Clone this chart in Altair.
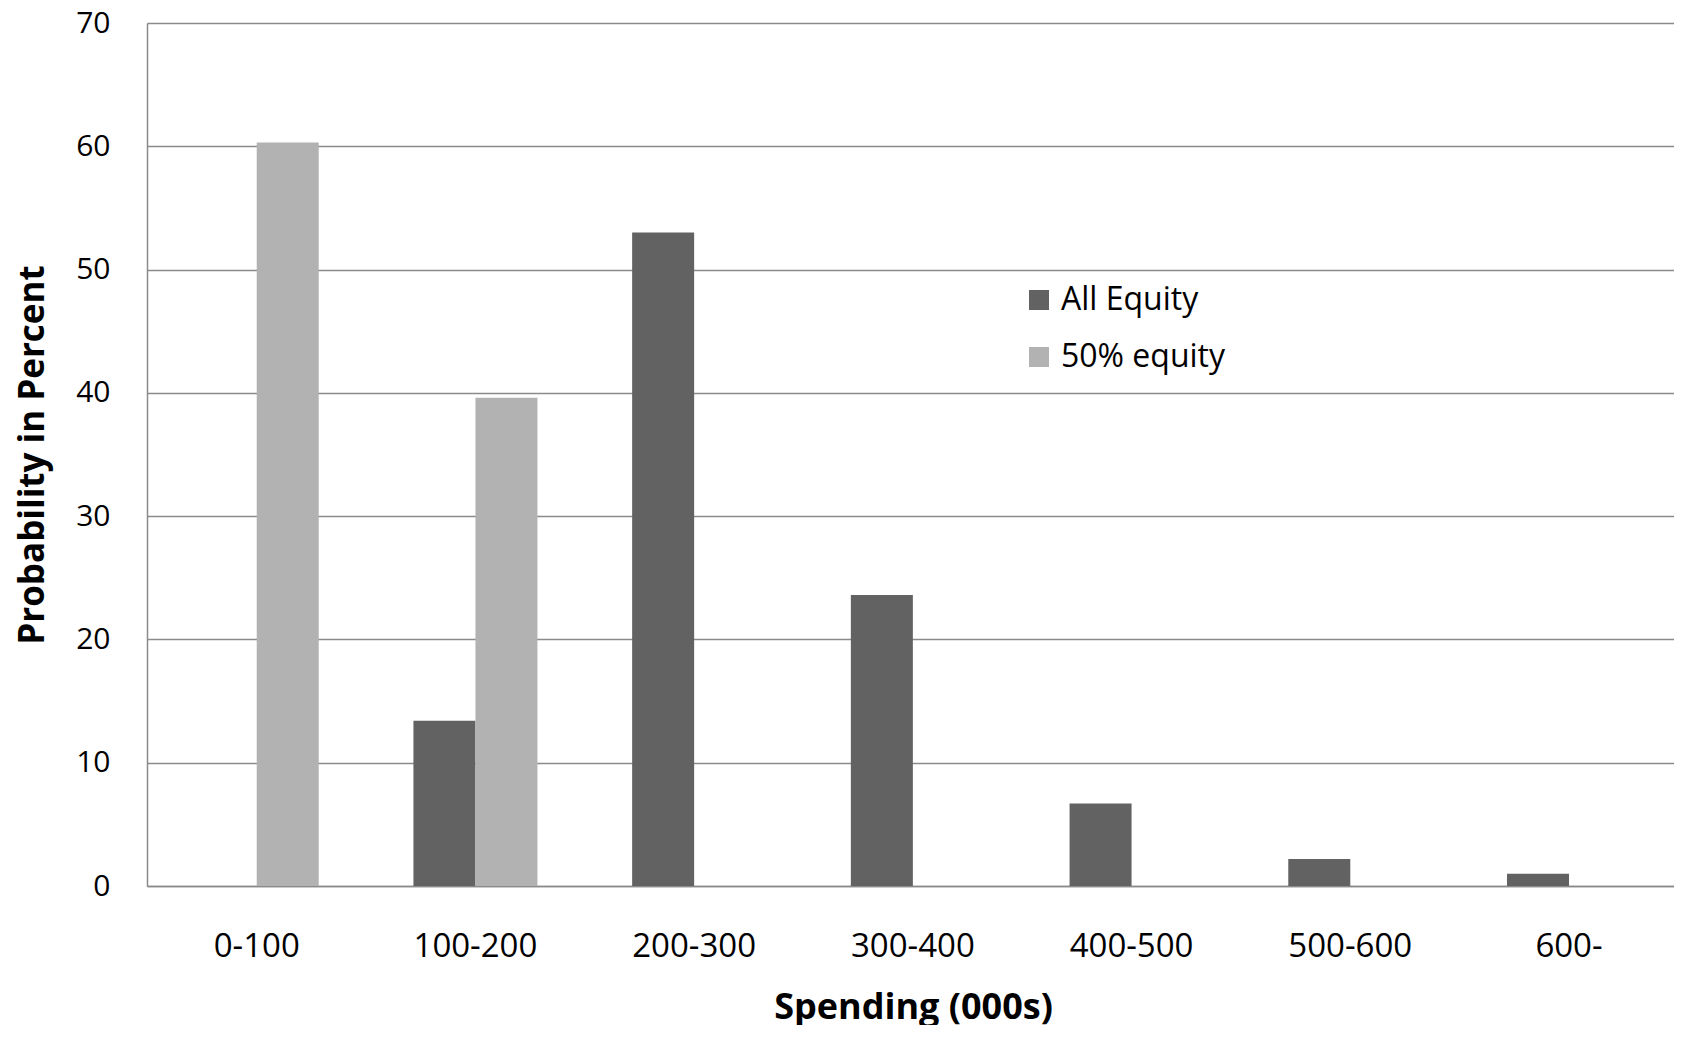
import altair as alt
import pandas as pd

categories = ["0-100", "100-200", "200-300", "300-400", "400-500", "500-600", "600-"]
series = ["All Equity", "50% equity"]
all_equity = [0.0, 13.4, 53.0, 23.6, 6.7, 2.2, 1.0]
half_equity = [60.3, 39.6, 0.0, 0.0, 0.0, 0.0, 0.0]
colors = ["#626262", "#b2b2b2"]

rows = []
for c, a, h in zip(categories, all_equity, half_equity):
    rows.append({"cat": c, "series": series[0], "value": a})
    rows.append({"cat": c, "series": series[1], "value": h})
df = pd.DataFrame(rows)

FONT = "Open Sans"
GRID = "#8a8a8a"

chart = alt.Chart(df).mark_bar().encode(
    x=alt.X("cat:N", sort=categories,
            scale=alt.Scale(paddingInner=0.433, paddingOuter=0.2074, align=0.526),
            axis=alt.Axis(title="Spending (000s)", labelAngle=0, ticks=False, tickSize=0,
                          labelPadding=60, labelBaseline="middle",
                          labelFont=FONT, labelFontSize=33, labelColor="#000000",
                          titleFont=FONT, titleFontSize=36, titleFontWeight="bold",
                          titleColor="#000000", titleX=766, titleY=121, titleBaseline="middle",
                          domainColor=GRID, domainWidth=1.5, grid=False)),
    xOffset=alt.XOffset("series:N", sort=series, scale=alt.Scale(domain=series, paddingInner=0, paddingOuter=0)),
    y=alt.Y("value:Q", scale=alt.Scale(domain=[0, 70], nice=False),
            axis=alt.Axis(title="Probability in Percent", values=[0, 10, 20, 30, 40, 50, 60, 70],
                          ticks=False, tickSize=0, labelPadding=37,
                          labelFont=FONT, labelFontSize=30, labelColor="#000000",
                          titleFont=FONT, titleFontSize=35, titleFontWeight="bold",
                          titleColor="#000000", titleX=-115, titleBaseline="middle",
                          domainColor=GRID, domainWidth=1.5,
                          grid=True, gridColor=GRID, gridWidth=1.5)),
    color=alt.Color("series:N", sort=series,
                    scale=alt.Scale(domain=series, range=colors),
                    legend=alt.Legend(title=None, orient="none", legendX=876, legendY=261,
                                      symbolType="square", symbolSize=400, symbolStrokeWidth=0,
                                      labelFont=FONT, labelFontSize=32, labelColor="#000000",
                                      labelLimit=0,
                                      rowPadding=25, padding=0, labelOffset=6)),
).properties(
    width=1527, height=863,
    autosize=alt.AutoSizeParams(type="none"),
    padding={"left": 139, "top": 15, "right": 0, "bottom": 139},
).configure_view(stroke=None).configure(background="white")

chart.save("out.html", embed_options={"renderer": "svg", "actions": False})
